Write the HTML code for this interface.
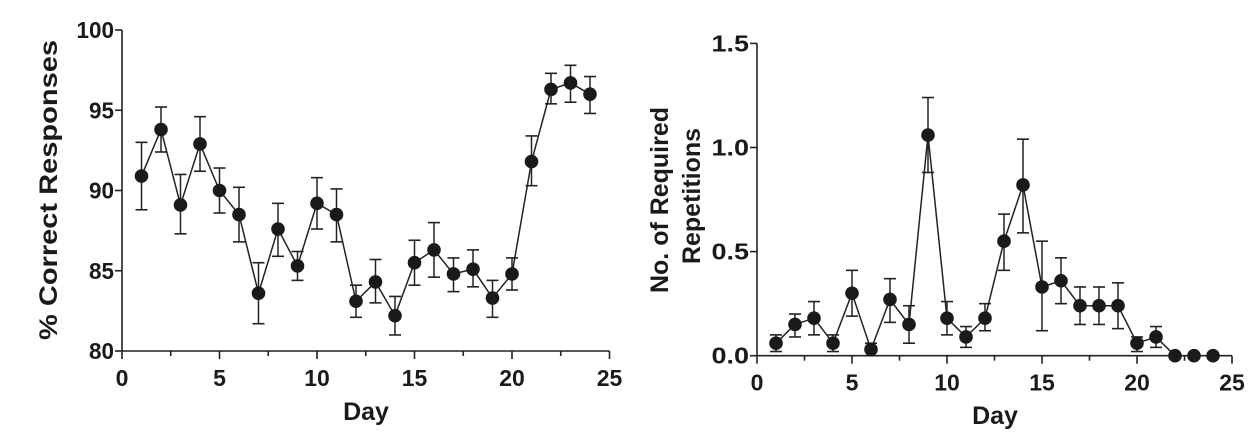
<!DOCTYPE html>
<html><head><style>body{margin:0;background:#fff}svg{display:block}text{font-family:"Liberation Sans",Arial,sans-serif;font-weight:bold;fill:#1a1a1a}</style></head>
<body>
<svg id="s" width="1254" height="439" xmlns="http://www.w3.org/2000/svg"></svg>
<script>
const s=document.getElementById('s');let h='';
function chart(o){
 const X=d=>o.x0+d*o.dx, Y=v=>o.y0-(v-o.vmin)*o.dy;
 h+=`<line x1="${o.x0}" y1="${Y(o.vmax)}" x2="${o.x0}" y2="${o.y0}" stroke="#222" stroke-width="1.6"/>`;
 h+=`<line x1="${o.x0}" y1="${o.y0}" x2="${X(25)}" y2="${o.y0}" stroke="#222" stroke-width="1.6"/>`;
 o.yt.forEach(([v,l])=>{h+=`<line x1="${o.x0-7}" y1="${Y(v)}" x2="${o.x0}" y2="${Y(v)}" stroke="#222" stroke-width="1.6"/><text x="${o.x0-8}" y="${Y(v)+8}" font-size="23" text-anchor="end" textLength="${l.length*12.5}" lengthAdjust="spacingAndGlyphs">${l}</text>`});
 for(let d=0;d<=25;d+=2.5){h+=`<line x1="${X(d)}" y1="${o.y0}" x2="${X(d)}" y2="${o.y0+(d%5?5:8)}" stroke="#222" stroke-width="1.6"/>`;if(d%5==0)h+=`<text x="${X(d)}" y="${o.y0+35}" font-size="23" text-anchor="middle">${d}</text>`}
 let p='';o.d.forEach((r,i)=>{p+=(i?'L':'M')+X(i+1)+','+Y(r[0])});
 h+=`<path d="${p}" fill="none" stroke="#222" stroke-width="1.5"/>`;
 o.d.forEach((r,i)=>{const x=X(i+1);if(r[2]>r[1]+0.0001){h+=`<line x1="${x}" y1="${Y(r[1])}" x2="${x}" y2="${Y(r[2])}" stroke="#222" stroke-width="1.5"/><line x1="${x-6}" y1="${Y(r[1])}" x2="${x+6}" y2="${Y(r[1])}" stroke="#222" stroke-width="1.6"/><line x1="${x-6}" y1="${Y(r[2])}" x2="${x+6}" y2="${Y(r[2])}" stroke="#222" stroke-width="1.6"/>`}
 h+=`<circle cx="${x}" cy="${Y(r[0])}" r="6.8" fill="#1a1a1a"/>`});
}
chart({x0:122,dx:19.5,y0:351,vmin:80,vmax:100,dy:16.05,yt:[[80,'80'],[85,'85'],[90,'90'],[95,'95'],[100,'100']],d:[
[90.9,88.8,93.0],[93.8,92.4,95.2],[89.1,87.3,91.0],[92.9,91.2,94.6],[90.0,88.6,91.4],[88.5,86.8,90.2],[83.6,81.7,85.5],[87.6,85.9,89.2],[85.3,84.4,86.2],[89.2,87.6,90.8],[88.5,86.8,90.1],[83.1,82.1,84.1],[84.3,83.0,85.7],[82.2,81.0,83.4],[85.5,84.1,86.9],[86.3,84.6,88.0],[84.8,83.7,85.8],[85.1,84.0,86.3],[83.3,82.1,84.4],[84.8,83.8,85.8],[91.8,90.3,93.4],[96.3,95.4,97.3],[96.7,95.5,97.8],[96.0,94.8,97.1]]});
chart({x0:757,dx:19,y0:355.7,vmin:0,vmax:1.5,dy:208.2,yt:[[0,'0.0'],[0.5,'0.5'],[1,'1.0'],[1.5,'1.5']],d:[
[.06,.02,.10],[.15,.09,.20],[.18,.10,.26],[.06,.02,.10],[.30,.19,.41],[.03,0,.06],[.27,.16,.37],[.15,.06,.24],[1.06,.88,1.24],[.18,.10,.26],[.09,.04,.14],[.18,.12,.25],[.55,.41,.68],[.82,.59,1.04],[.33,.12,.55],[.36,.25,.47],[.24,.15,.33],[.24,.15,.33],[.24,.13,.35],[.06,.02,.09],[.09,.04,.14],[0,0,0],[0,0,0],[0,0,0]]});
h+=`<text x="366" y="420" font-size="25" text-anchor="middle">Day</text>`;
h+=`<text x="995" y="424" font-size="25" text-anchor="middle">Day</text>`;
h+=`<text transform="translate(57,190) rotate(-90)" font-size="25" text-anchor="middle" textLength="300" lengthAdjust="spacingAndGlyphs">% Correct Responses</text>`;
h+=`<text transform="translate(668,200) rotate(-90)" font-size="25" text-anchor="middle" textLength="186" lengthAdjust="spacingAndGlyphs">No. of Required</text>`;
h+=`<text transform="translate(700,196) rotate(-90)" font-size="25" text-anchor="middle" textLength="136" lengthAdjust="spacingAndGlyphs">Repetitions</text>`;
s.innerHTML=h;
</script>
</body></html>
